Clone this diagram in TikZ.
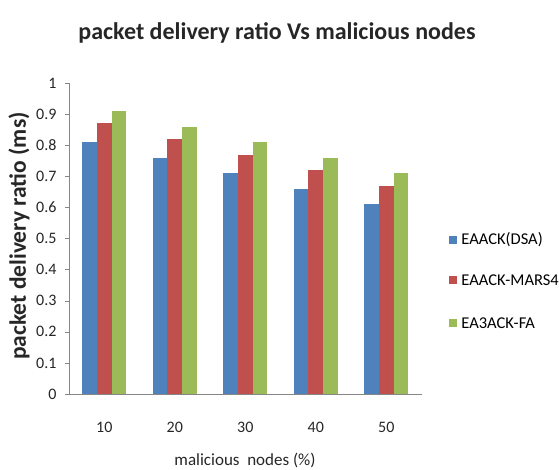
\documentclass[tikz,border=0pt]{standalone}
\usepackage{fontspec}
\setmainfont{Carlito}
\usetikzlibrary{positioning}
\definecolor{barblue}{HTML}{4F81BD}
\definecolor{barred}{HTML}{C0504D}
\definecolor{bargreen}{HTML}{9BBB59}
\definecolor{axisgray}{HTML}{868686}

\begin{document}
\begin{tikzpicture}[x=1pt, y=1pt,
  tick/.style={font=\fontsize{16}{18}\selectfont, text=black!85},
  legtext/.style={font=\fontsize{16.5}{18}\selectfont, anchor=west, inner sep=0pt},
  legbox/.style={minimum size=8pt, inner sep=0pt}]
  \useasboundingbox (0,0) rectangle (559,469);
  \node[font=\bfseries\fontsize{24}{28}\selectfont, text=black!85] (title) at (277,436) {packet delivery ratio Vs malicious nodes};
  % bars
  \begin{scope}[x=70.5pt, y=311pt, shift={(69pt,75pt)}]
    \foreach \i/\a/\b/\c in {0/0.81/0.87/0.91, 1/0.76/0.82/0.86, 2/0.71/0.77/0.81,
                             3/0.66/0.72/0.76, 4/0.61/0.67/0.71} {
      \fill[barblue] (\i+0.19,0) rectangle (\i+0.397,\a);
      \fill[barred] (\i+0.397,0) rectangle (\i+0.603,\b);
      \fill[bargreen] (\i+0.603,0) rectangle (\i+0.81,\c);
    }
  \end{scope}
  % axes
  \draw[axisgray] (69,75) -- (69,386);
  \draw[axisgray] (69,75) -- (422,75);
  \foreach \v [count=\k from 0] in {0,0.1,0.2,0.3,0.4,0.5,0.6,0.7,0.8,0.9,1} {
    \draw[axisgray] (65,{75+31.1*\k}) -- (69,{75+31.1*\k});
    \node[tick, anchor=east] (yt-\k) at (60,{75+31.1*\k}) {\v};
  }
  \foreach \v [count=\k from 0] in {10,20,30,40,50}
    \node[tick] (xt-\k) at ({104.25+70.5*\k},42) {\v};
  \node[font=\fontsize{17}{19}\selectfont, text=black!85] (xlabel) at (245,9) {malicious~ nodes (\%)};
  \node[font=\bfseries\fontsize{23.5}{25}\selectfont, text=black!85, rotate=90] (ylabel) at (19,233) {packet delivery ratio (ms)};
  % legend
  \node[legbox, fill=barblue] (box-a) at (453,229) {};
  \node[legbox, fill=barred] (box-b) at (453,189) {};
  \node[legbox, fill=bargreen] (box-c) at (453,146) {};
  \node[legtext, right=4pt of box-a] (leg-a) {EAACK(DSA)};
  \node[legtext, right=4pt of box-b] (leg-b) {EAACK-MARS4};
  \node[legtext, right=4pt of box-c] (leg-c) {EA3ACK-FA};
\end{tikzpicture}
\end{document}
